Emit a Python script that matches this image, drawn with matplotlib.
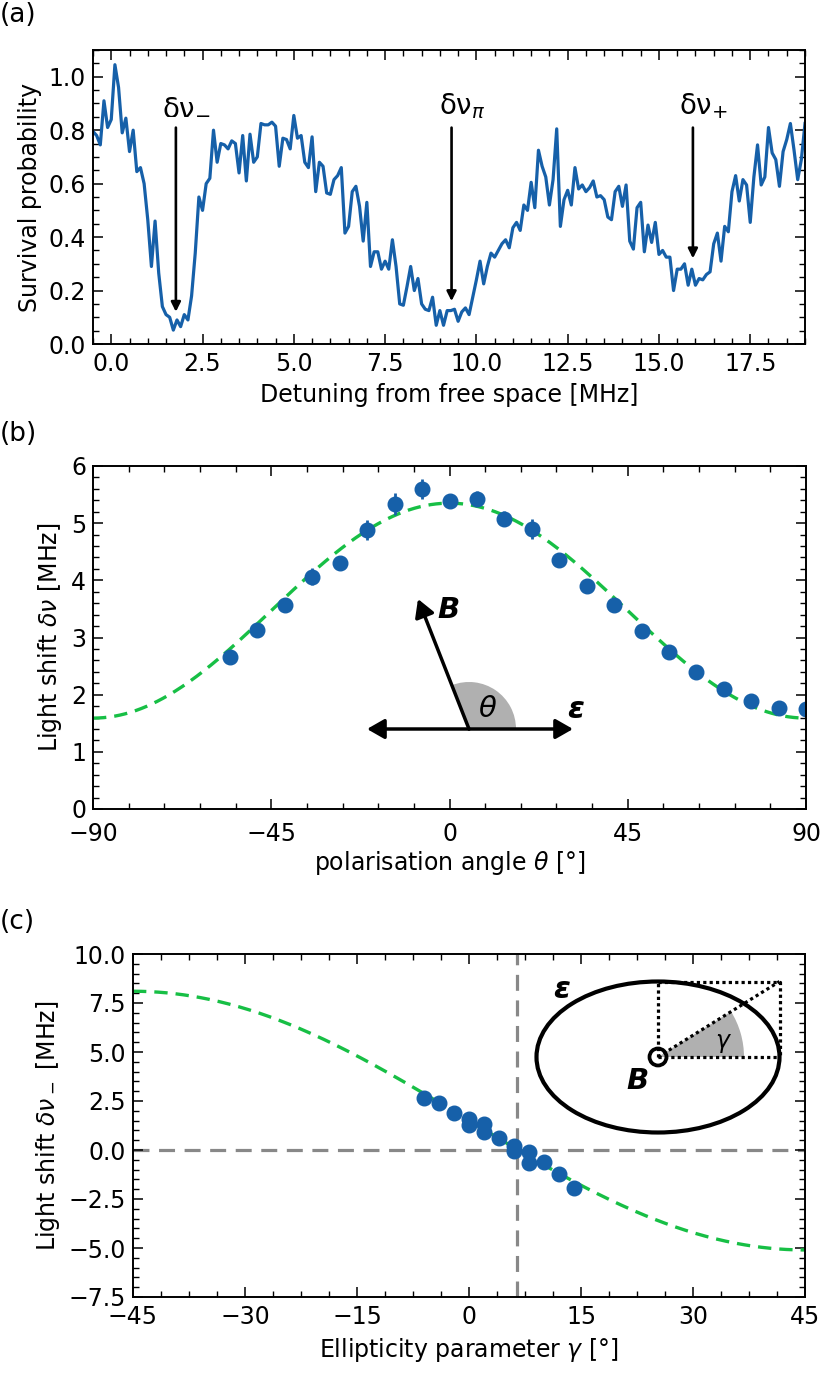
import numpy as np
import matplotlib.pyplot as plt
from matplotlib.patches import Wedge, Ellipse, Circle
from matplotlib.ticker import MultipleLocator

# ---- (a) survival spectrum, 0.1 MHz steps starting at -0.5 MHz
detuning_start = -0.5
detuning_step = 0.1
survival = [
    0.795, 0.78, 0.745, 0.91, 0.81, 0.84, 1.045, 0.96, 0.79, 0.845,
    0.72, 0.80, 0.645, 0.66, 0.60, 0.465, 0.29, 0.46, 0.265, 0.14,
    0.11, 0.10, 0.052, 0.09, 0.065, 0.11, 0.09, 0.18, 0.34, 0.55,
    0.50, 0.60, 0.62, 0.80, 0.68, 0.75, 0.745, 0.73, 0.76, 0.75,
    0.64, 0.78, 0.61, 0.785, 0.68, 0.70, 0.825, 0.82, 0.82, 0.83,
    0.815, 0.665, 0.77, 0.765, 0.73, 0.855, 0.77, 0.78, 0.68, 0.66,
    0.775, 0.57, 0.68, 0.665, 0.565, 0.56, 0.615, 0.63, 0.66, 0.415,
    0.44, 0.57, 0.59, 0.515, 0.385, 0.53, 0.29, 0.345, 0.345, 0.28,
    0.31, 0.28, 0.39, 0.29, 0.15, 0.145, 0.215, 0.29, 0.20, 0.245,
    0.15, 0.13, 0.125, 0.175, 0.07, 0.125, 0.07, 0.125, 0.125, 0.13,
    0.085, 0.12, 0.135, 0.11, 0.175, 0.24, 0.31, 0.225, 0.29, 0.34,
    0.325, 0.35, 0.375, 0.39, 0.36, 0.435, 0.455, 0.425, 0.52, 0.50,
    0.605, 0.51, 0.725, 0.665, 0.625, 0.52, 0.615, 0.805, 0.44, 0.54,
    0.575, 0.52, 0.66, 0.58, 0.595, 0.57, 0.585, 0.61, 0.55, 0.555,
    0.54, 0.475, 0.465, 0.57, 0.59, 0.515, 0.595, 0.385, 0.355, 0.51,
    0.53, 0.345, 0.445, 0.38, 0.455, 0.335, 0.35, 0.325, 0.325, 0.20,
    0.28, 0.28, 0.30, 0.22, 0.28, 0.22, 0.245, 0.24, 0.26, 0.27,
    0.375, 0.415, 0.31, 0.44, 0.42, 0.57, 0.63, 0.535, 0.615, 0.595,
    0.455, 0.625, 0.745, 0.595, 0.625, 0.81, 0.715, 0.69, 0.59, 0.72,
    0.765, 0.825, 0.725, 0.615, 0.69, 0.825,
]
detuning = detuning_start + detuning_step * np.arange(len(survival))

peak_names = ["-", r"\pi", "+"]
peak_pos = [1.77, 9.32, 15.93]
peak_tip = [0.11, 0.15, 0.31]

# ---- (b) light shift vs polarisation angle
theta = [-55.4, -48.5, -41.5, -34.6, -27.7, -20.8, -13.8, -6.9, 0.0, 6.9, 13.8,
         20.8, 27.7, 34.6, 41.5, 48.5, 55.4, 62.3, 69.2, 76.2, 83.1, 90.0]
shift_b = [2.66, 3.13, 3.57, 4.06, 4.31, 4.88, 5.34, 5.60, 5.38, 5.43, 5.08,
           4.90, 4.35, 3.90, 3.57, 3.11, 2.75, 2.39, 2.10, 1.89, 1.77, 1.75]
err_b = [0.05, 0.05, 0.06, 0.15, 0.07, 0.17, 0.19, 0.17, 0.08, 0.13, 0.13,
         0.17, 0.06, 0.05, 0.05, 0.05, 0.05, 0.05, 0.05, 0.05, 0.05, 0.05]
fit_b_offset = 1.59
fit_b_amp = 3.76

# ---- (c) light shift vs ellipticity
gamma = [-6, -4, -2, 0, 0, 2, 2, 4, 6, 6, 8, 8, 10, 12, 14]
shift_c = [2.67, 2.38, 1.90, 1.57, 1.28, 1.33, 0.93, 0.60, 0.20, -0.04,
           -0.12, -0.65, -0.61, -1.24, -1.95]
fit_c_offset = 1.5
fit_c_amp = 6.6
gamma_zero = 6.4

blue = "#1660a9"
green = "#17bf45"

plt.rcParams.update({
    "font.size": 17,
    "axes.linewidth": 1.4,
    "axes.labelpad": 5,
    "xtick.direction": "in",
    "ytick.direction": "in",
    "xtick.top": True,
    "ytick.right": True,
    "xtick.major.size": 7.5,
    "ytick.major.size": 7.5,
    "xtick.minor.size": 4,
    "ytick.minor.size": 4,
    "xtick.major.width": 1.1,
    "ytick.major.width": 1.1,
    "xtick.minor.width": 1.0,
    "ytick.minor.width": 1.0,
    "xtick.major.pad": 6,
    "ytick.major.pad": 5,
})

W, H = 830, 1384
fig = plt.figure(figsize=(W / 100, H / 100), dpi=100)


def box(l, t, r, b):
    return [l / W, 1 - b / H, (r - l) / W, (b - t) / H]


# ---------------- (a)
ax = fig.add_axes(box(93, 50, 805, 344))
ax.plot(detuning, survival, color=blue, lw=2.3)
ax.set_xlim(-0.5, 19)
ax.set_ylim(0, 1.1)
ax.xaxis.set_major_locator(MultipleLocator(2.5))
ax.xaxis.set_minor_locator(MultipleLocator(0.5))
ax.yaxis.set_major_locator(MultipleLocator(0.2))
ax.yaxis.set_minor_locator(MultipleLocator(0.05))
ax.set_xlabel("Detuning from free space [MHz]")
ax.set_ylabel("Survival probability")
for name, x, tip in zip(peak_names, peak_pos, peak_tip):
    ax.annotate("", xy=(x, tip), xytext=(x, 0.82),
                arrowprops=dict(arrowstyle="-|>", color="k", lw=1.9,
                                mutation_scale=14))
    ax.text(x + 0.3, 0.86, "δν$_{%s}$" % name, ha="center", va="baseline",
            fontsize=20)

# ---------------- (b)
ax = fig.add_axes(box(93, 466, 806, 809))
tt = np.linspace(-90, 90, 400)
ax.plot(tt, fit_b_offset + fit_b_amp * np.cos(np.radians(tt)) ** 2,
        color=green, lw=2.4, ls=(0, (4, 2.4)))
ax.errorbar(theta, shift_b, yerr=err_b, fmt="o", color=blue, ms=10.5,
            elinewidth=2, capsize=0)
ax.set_xlim(-90, 90)
ax.set_ylim(0, 6)
ax.xaxis.set_major_locator(MultipleLocator(45))
ax.xaxis.set_minor_locator(MultipleLocator(9))
ax.yaxis.set_major_locator(MultipleLocator(1))
ax.yaxis.set_minor_locator(MultipleLocator(0.2))
ax.tick_params(axis="x", which="major", pad=9.5)
ax.set_xlabel(r"polarisation angle $\theta$ [°]", labelpad=2)
ax.set_ylabel(r"Light shift $\delta\nu$ [MHz]")

# ---------------- (c)
ax = fig.add_axes(box(133, 954, 805, 1297))
gg = np.linspace(-45, 45, 400)
ax.axhline(0, color="#888888", lw=2.3, ls=(0, (5, 3)), zorder=1)
ax.axvline(gamma_zero, color="#888888", lw=2.3, ls=(0, (5, 3)), zorder=1)
ax.plot(gg, fit_c_offset - fit_c_amp * np.sin(np.radians(2 * gg)),
        color=green, lw=2.4, ls=(0, (4, 2.4)), zorder=2)
ax.plot(gamma, shift_c, "o", color=blue, ms=10.5, zorder=3)
ax.set_xlim(-45, 45)
ax.set_ylim(-7.5, 10)
ax.xaxis.set_major_locator(MultipleLocator(15))
ax.xaxis.set_minor_locator(MultipleLocator(3.75))
ax.yaxis.set_major_locator(MultipleLocator(2.5))
ax.yaxis.set_minor_locator(MultipleLocator(0.5))
ax.set_xlabel(r"Ellipticity parameter $\gamma$ [°]")
ax.set_ylabel(r"Light shift $\delta\nu_-$ [MHz]")

fig.text(0, 1 - 2 / H, "(a)", ha="left", va="top", fontsize=19)
fig.text(0, 1 - 421 / H, "(b)", ha="left", va="top", fontsize=19)
fig.text(0, 1 - 909 / H, "(c)", ha="left", va="top", fontsize=19)

# ---------------- schematic sketches, drawn in figure pixels
ov = fig.add_axes([0, 0, 1, 1], zorder=10)
ov.set_xlim(0, W)
ov.set_ylim(H, 0)
ov.patch.set_alpha(0)
ov.axis("off")

arrow = dict(arrowstyle="-|>,head_length=0.7,head_width=0.4", color="k",
             lw=2.5, mutation_scale=15, shrinkA=0, shrinkB=0)
ox, oy = 469, 729
ov.add_patch(Wedge((ox, oy), 47, -111, 0, color="#b0b0b0", lw=0))
ov.annotate("", xy=(367, oy), xytext=(ox, oy), arrowprops=arrow)
ov.annotate("", xy=(573, oy), xytext=(ox, oy), arrowprops=arrow)
ov.annotate("", xy=(418, 599), xytext=(ox, oy), arrowprops=arrow)
ov.text(449, 610, "B", ha="center", va="center", fontsize=21,
        fontweight="bold", fontstyle="italic")
ov.text(488, 709, r"$\theta$", ha="center", va="center", fontsize=21)
ov.text(576, 709, "ε", ha="center", va="center", fontsize=22,
        fontweight="bold", fontstyle="italic")

cx, cy, a, b = 658, 1057, 121.5, 75.5
dots = dict(color="k", lw=2.3, ls=(0, (1, 1)), solid_capstyle="butt")
ov.add_patch(Wedge((cx, cy), 86, -np.degrees(np.arctan2(b, a)), 0,
                   color="#b0b0b0", lw=0))
ov.plot([cx, cx], [cy, cy - b], **dots)
ov.plot([cx, cx + a], [cy, cy], **dots)
ov.plot([cx, cx + a, cx + a], [cy - b, cy - b, cy], **dots)
ov.plot([cx, cx + a], [cy, cy - b], **dots)
ov.add_patch(Ellipse((cx, cy), 2 * a, 2 * b, fill=False, lw=3, color="k"))
ov.add_patch(Circle((cx, cy), 8.5, fill=False, lw=2.7, color="k"))
ov.text(562, 990, "ε", ha="center", va="center", fontsize=22,
        fontweight="bold", fontstyle="italic")
ov.text(638, 1081, "B", ha="center", va="center", fontsize=21,
        fontweight="bold", fontstyle="italic")
ov.text(724, 1043, r"$\gamma$", ha="center", va="center", fontsize=17)

fig.savefig("out.png", dpi=100)
plt.close(fig)
